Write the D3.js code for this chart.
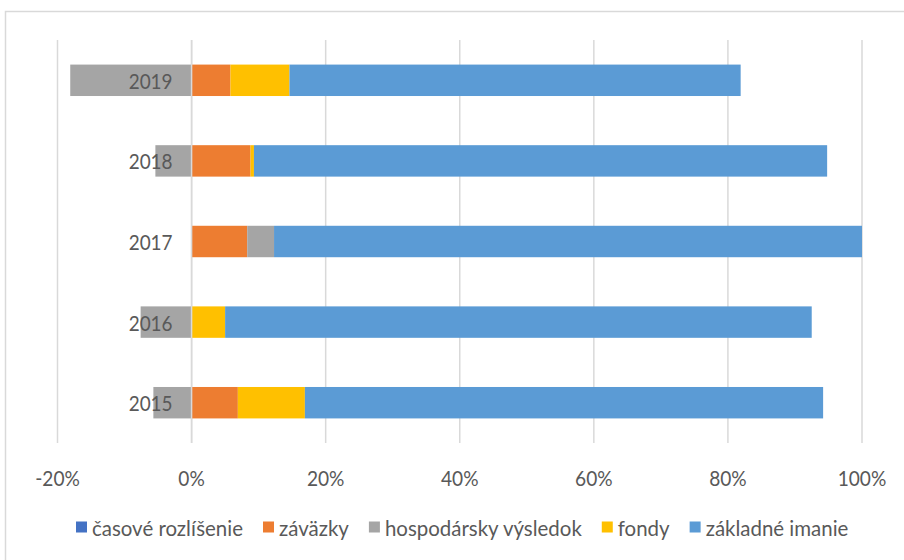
<!DOCTYPE html>
<html>
<head>
<meta charset="utf-8">
<script src="https://cdn.jsdelivr.net/npm/d3@7"></script>
<style>
  html, body { margin: 0; padding: 0; background: #fff; }
  svg text { font-family: Lato, "Open Sans", sans-serif; fill: #595959; }
</style>
</head>
<body>
<svg id="chart" width="904" height="560"></svg>
<script>
const years = ["2019", "2018", "2017", "2016", "2015"];
const seriesNames = ["časové rozlíšenie", "záväzky", "hospodársky výsledok", "fondy", "základné imanie"];
const seriesColors = ["#4472C4", "#ED7D31", "#A5A5A5", "#FFC000", "#5B9BD5"];
const casoveRozlisenie = [0, 0, 0, 0, 0];
const zavazky = [0.058, 0.088, 0.083, 0, 0.069];
const hospodarskyVysledok = [-0.181, -0.054, 0.040, -0.076, -0.057];
const fondy = [0.088, 0.005, 0, 0.050, 0.100];
const zakladneImanie = [0.673, 0.855, 0.877, 0.875, 0.773];
const tickValues = [-0.2, 0, 0.2, 0.4, 0.6, 0.8, 1.0];

const seriesValues = [casoveRozlisenie, zavazky, hospodarskyVysledok, fondy, zakladneImanie];
const table = years.map((y, i) => {
  const row = { year: y };
  seriesNames.forEach((s, j) => row[s] = seriesValues[j][i]);
  return row;
});

function condense(k) {
  return sel => sel.each(function () {
    const len = this.getComputedTextLength();
    d3.select(this).attr("textLength", len * k).attr("lengthAdjust", "spacingAndGlyphs");
  });
}

const svg = d3.select("#chart");

// chart border
svg.append("rect").attr("x", 5.5).attr("y", 11.5).attr("width", 1000).attr("height", 600)
  .attr("fill", "none").attr("stroke", "#D9D9D9").attr("stroke-width", 1.5);

const x = d3.scaleLinear().domain([-0.2, 1.0]).range([57.5, 862]);
const y = d3.scaleBand().domain(years).range([40, 443]).paddingInner(0.61).paddingOuter(0.305);

// gridlines
svg.append("g").selectAll("line").data(tickValues).join("line")
  .attr("x1", d => x(d)).attr("x2", d => x(d))
  .attr("y1", 40).attr("y2", 443)
  .attr("stroke", "#D9D9D9").attr("stroke-width", 1.5);

const stack = d3.stack().keys(seriesNames).offset(d3.stackOffsetDiverging);
const stacked = stack(table);

svg.append("g").selectAll("g").data(stacked).join("g")
  .attr("fill", (d, i) => seriesColors[i])
  .selectAll("rect").data(d => d).join("rect")
  .attr("x", d => x(Math.min(d[0], d[1])))
  .attr("width", d => Math.abs(x(d[1]) - x(d[0])))
  .attr("y", d => y(d.data.year))
  .attr("height", y.bandwidth());

// zero axis line on top
svg.append("line").attr("x1", x(0)).attr("x2", x(0)).attr("y1", 40).attr("y2", 443)
  .attr("stroke", "#D9D9D9").attr("stroke-width", 1.5);

// category labels
svg.append("g").selectAll("text").data(years).join("text")
  .attr("x", x(0) - 19).attr("y", d => y(d) + y.bandwidth() / 2)
  .attr("text-anchor", "end").attr("dominant-baseline", "central")
  .style("font-size", "22px").text(d => d).call(condense(0.86));

// x axis tick labels
const fmt = d => Math.round(d * 100) + "%";
svg.append("g").selectAll("text").data(tickValues).join("text")
  .attr("x", d => x(d)).attr("y", 477)
  .attr("text-anchor", "middle").attr("dominant-baseline", "central")
  .style("font-size", "22px").text(d => fmt(d)).call(condense(0.87));

// legend
const legend = svg.append("g");
let lx = 76;
seriesNames.forEach((name, i) => {
  const g = legend.append("g").attr("transform", `translate(${lx},527)`);
  g.append("rect").attr("x", 0).attr("y", -5.5).attr("width", 11).attr("height", 11).attr("fill", seriesColors[i]);
  const t = g.append("text").attr("x", 16).attr("y", 0).attr("dominant-baseline", "central")
    .style("font-size", "22px").text(name).call(condense(0.93));
  const w = +t.attr("textLength");
  lx += 16 + w + 20;
});
</script>
</body>
</html>
